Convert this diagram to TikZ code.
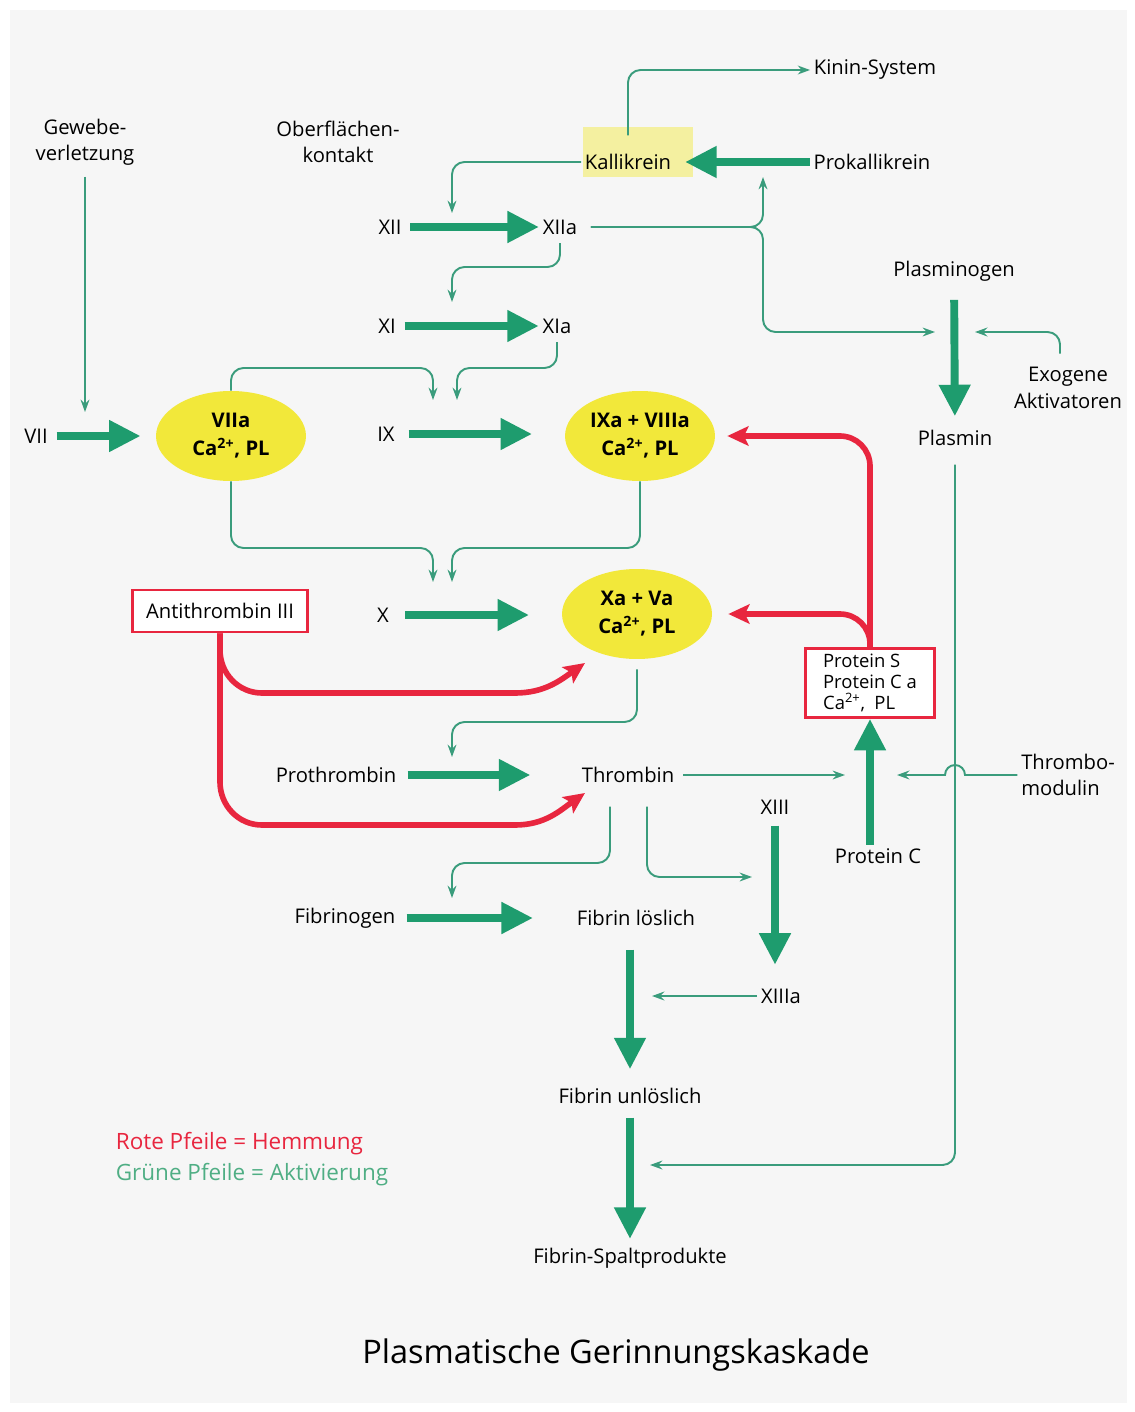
\documentclass[tikz,border=0pt]{standalone}
\usepackage{fontspec}
\setmainfont{Open Sans}
\usepackage{tikz}
\usetikzlibrary{positioning,arrows.meta,shapes.geometric}

\definecolor{bggray}{HTML}{F6F6F6}
\definecolor{fatgreen}{HTML}{1E9C6E}
\definecolor{thingreen}{HTML}{3A9C7C}
\definecolor{leggreen}{HTML}{4FAE84}
\definecolor{inhibred}{HTML}{E8263F}
\definecolor{ellyellow}{HTML}{F2E83A}
\definecolor{kalyellow}{HTML}{F4F0A0}

\tikzset{
  lbl/.style={font=\fontsize{11.5}{15}\selectfont, inner sep=2pt, align=center},
  enzyme/.style={ellipse, fill=ellyellow, minimum width=3cm, minimum height=1.8cm,
    inner sep=0pt, align=center, font=\fontsize{11.5}{16}\selectfont\bfseries},
  kalbox/.style={fill=kalyellow, minimum width=2.2cm, minimum height=1cm, inner sep=0pt},
  hemmbox/.style={draw=inhibred, line width=1.6pt, fill=white, inner sep=3pt,
    font=\fontsize{11.5}{15}\selectfont},
  fat/.style={draw=fatgreen, line width=4.5pt, -{Triangle[length=18pt,width=17pt]}},
  act/.style={draw=thingreen, line width=1.1pt, rounded corners=0.25cm,
    -{Stealth[length=7pt,width=5pt]}},
  inhib/.style={draw=inhibred, line width=3.2pt, rounded corners=0.6cm,
    -{Stealth[length=12pt,width=11pt,inset=2.5pt]}},
}

\begin{document}
\begin{tikzpicture}[x=0.02cm, y=-0.02cm]
    % Page
    \useasboundingbox (0,0) rectangle (1135,1412);
    \fill[white] (0,0) rectangle (1135,1412);
    \fill[bggray] (10,10) rectangle (1127,1403);

    % Triggers
    \node[lbl] (gewebe) at (85,142) {Gewebe-\\verletzung};
    \node[lbl] (ober) at (338,142) {Oberflächen-\\kontakt};

    % Contact system
    \node[lbl] (kinin) at (875,70) {Kinin-System};
    \node[kalbox] (kalbg) at (638,152) {};
    \node[lbl] (kal) at (628,162) {Kallikrein};
    \node[lbl] (prokal) at (872,162) {Prokallikrein};
    \node[lbl] (XII) at (390,227) {XII};
    \node[lbl] (XIIa) at (560,227) {XIIa};
    \node[lbl] (XI) at (387,326) {XI};
    \node[lbl] (XIa) at (557,326) {XIa};

    % Fibrinolysis
    \node[lbl] (plgen) at (954,271) {Plasminogen};
    \node[lbl] (exo) at (1068,388) {Exogene\\Aktivatoren};
    \node[lbl] (plasmin) at (955,438) {Plasmin};

    % Tenase and prothrombinase
    \node[lbl] (VII) at (36,436) {VII};
    \node[enzyme] (VIIa) at (231,436) {VIIa\\Ca\textsuperscript{2+}, PL};
    \node[lbl] (IX) at (386,434) {IX};
    \node[enzyme] (IXa) at (640,436) {IXa + VIIIa\\Ca\textsuperscript{2+}, PL};
    \node[hemmbox, minimum width=3.5cm, minimum height=0.84cm] (at3) at (220,611) {Antithrombin III};
    \node[lbl] (X) at (383,615) {X};
    \node[enzyme] (Xa) at (637,614) {Xa + Va\\Ca\textsuperscript{2+}, PL};
    \node[hemmbox, align=left, minimum width=2.58cm, minimum height=1.34cm,
      font=\fontsize{10.5}{12}\selectfont] (protS) at (870,683)
      {Protein S\\Protein C a\\Ca\textsuperscript{2+},\enspace PL};

    % Thrombin and fibrin
    \node[lbl] (prothr) at (336,775) {Prothrombin};
    \node[lbl] (thr) at (628,775) {Thrombin};
    \node[lbl, align=left] (thrmod) at (1068,775) {Thrombo-\\modulin};
    \node[lbl] (XIII) at (775,807) {XIII};
    \node[lbl] (protC) at (878,856) {Protein C};
    \node[lbl] (fibgen) at (345,918) {Fibrinogen};
    \node[lbl] (fibl) at (636,918) {Fibrin löslich};
    \node[lbl] (XIIIa) at (781,996) {XIIIa};
    \node[lbl] (fibu) at (630,1096) {Fibrin unlöslich};
    \node[lbl] (fsp) at (630,1258) {Fibrin-Spaltprodukte};

    % Legend and title
    \node[lbl, anchor=west, text=inhibred, font=\fontsize{12.8}{15}\selectfont] (legR) at (112,1144) {Rote Pfeile = Hemmung};
    \node[lbl, anchor=west, text=leggreen, font=\fontsize{12.8}{15}\selectfont] (legG) at (112,1175) {Grüne Pfeile = Aktivierung};
    \node[font=\fontsize{18.5}{22}\selectfont] (title) at (616,1355) {Plasmatische Gerinnungskaskade};

    % Targets on the conversion arrows
    \coordinate (c7) at (85,412);
    \coordinate (cXII) at (452,213);
    \coordinate (cPk) at (763,177);
    \coordinate (cXI) at (452,302);
    \coordinate (cIXa) at (433,400);
    \coordinate (cIXb) at (457,400);
    \coordinate (cXa) at (433,582);
    \coordinate (cXb) at (452,582);
    \coordinate (cPt) at (452,757);
    \coordinate (cPl1) at (935,332);
    \coordinate (cPl2) at (975,332);
    \coordinate (cPc1) at (845,775);
    \coordinate (cPc2) at (897,775);
    \coordinate (cFg) at (452,898);
    \coordinate (cXIII) at (752,877);
    \coordinate (cFu) at (652,996);
    \coordinate (cSp) at (650,1165);
    \coordinate (cHXa) at (585,663);
    \coordinate (cHThr) at (585,793);

    % Conversions
    \draw[fat, shorten <=0.1cm, shorten >=0.3cm] (VII) -- (VIIa);
    \draw[fat, shorten <=0.1cm] (XII) -- (XIIa);
    \draw[fat, shorten <=0.1cm] (XI) -- (XIa);
    \draw[fat, shorten <=0.2cm, shorten >=0.65cm] (IX.east) -- (IX.east -| IXa.west);
    \draw[fat, shorten <=0.25cm, shorten >=0.65cm] (X.east) -- (X.east -| Xa.west);
    \draw[fat, shorten >=0.2cm] (prokal) -- (kal);
    \draw[fat, shorten <=0.3cm, shorten >=0.2cm] (plgen) -- (plasmin);
    \draw[fat, shorten <=0.15cm, shorten >=0.95cm] (prothr) -- (thr);
    \draw[fat] (protC.north -| protS.south) -- (protS.south);
    \draw[fat, shorten <=0.15cm, shorten >=0.4cm] (XIII.south) -- (XIII |- XIIIa.north);
    \draw[fat, shorten <=0.15cm, shorten >=0.8cm] (fibgen) -- (fibl);
    \draw[fat, shorten <=0.4cm, shorten >=0.3cm] (fibu |- fibl.south) -- (fibu.north);
    \draw[fat, shorten <=0.2cm, shorten >=0.1cm] (fibu.south) -- (fsp.north);

    % Activation
    \draw[act, shorten <=0.15cm] (gewebe.south) -- (c7);
    \draw[act] (kal.west) -| (cXII);
    \draw[act, shorten <=0.3cm] (kal.north) |- (kinin.west);
    \draw[act, shorten <=0.2cm] (XIIa.east) -- (763,227) -- (cPk);
    \draw[act, shorten <=0.2cm] (XIIa.east) -- (763,227) -- (763,332) -- (cPl1);
    \draw[act, shorten <=0.1cm] (XIIa.south) |- (452,267) -- (cXI);
    \draw[act, shorten <=0.1cm] (XIa.south) |- (457,368) -- (cIXb);
    \draw[act] (VIIa.north) |- (433,368) -- (cIXa);
    \draw[act] (VIIa.south) |- (433,548) -- (cXa);
    \draw[act] (IXa.south) |- (452,548) -- (cXb);
    \draw[act, shorten <=0.2cm] (Xa.south) |- (452,722) -- (cPt);
    \draw[act, shorten <=0.2cm] ([xshift=-0.16cm]exo.north) |- (cPl2);
    \draw[act, shorten <=0.3cm] (plasmin.south) |- (cSp);
    \draw[act, shorten <=0.1cm] (thr.east) -- (cPc1);
    \draw[act, sharp corners] (thrmod.west) -- (965,775)
      arc[start angle=0, end angle=180, radius=0.2cm] -- (cPc2);
    \draw[act] ([xshift=-0.36cm,yshift=-0.4cm]thr.south) |- (452,863) -- (cFg);
    \draw[act] ([xshift=0.38cm,yshift=-0.4cm]thr.south) |- (cXIII);
    \draw[act] (XIIIa.west) -- (cFu);

    % Inhibition
    \draw[inhib, shorten >=0.24cm] (protS.north) -- (protS.north |- IXa.east) -- (IXa.east);
    \draw[inhib, shorten >=0.32cm] (protS.north) -- (protS.north |- Xa.east) -- (Xa.east);
    \draw[inhib, sharp corners] (at3.south) -- (220,650) to[out=-90, in=180] (262,693)
      -- (515,693) to[out=0, in=215] (cHXa);
    \draw[inhib, sharp corners] (at3.south) -- (220,782) to[out=-90, in=180] (262,825)
      -- (515,825) to[out=0, in=215] (cHThr);
\end{tikzpicture}
\end{document}
